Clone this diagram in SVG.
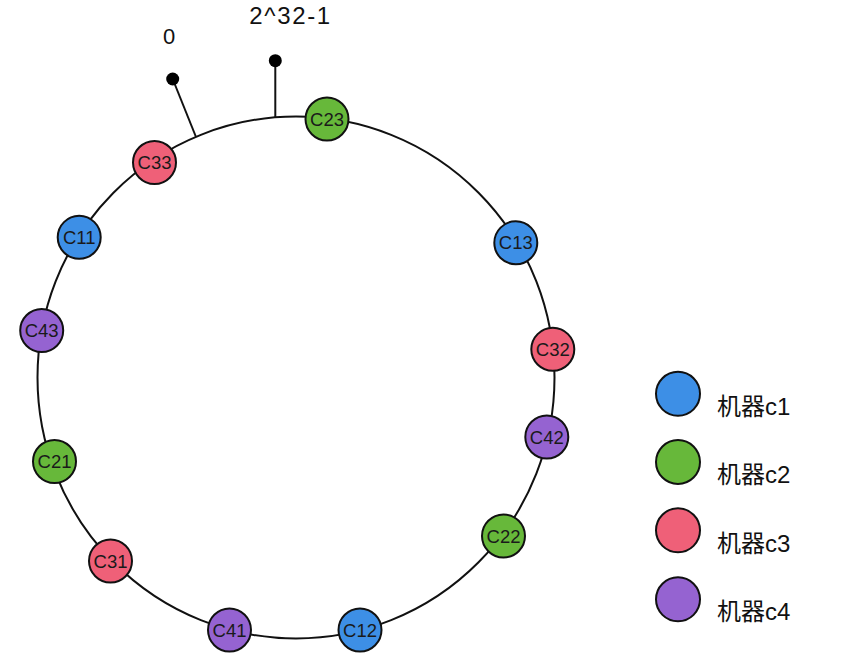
<svg xmlns="http://www.w3.org/2000/svg" width="858" height="666" viewBox="0 0 858 666">
<style>
.n{stroke:#111;stroke-width:2}
.c1{fill:#3d8fe6}
.c2{fill:#67b83a}
.c3{fill:#ef6078}
.c4{fill:#9563d1}
.t{font-family:"Liberation Sans",Arial,sans-serif;font-size:18.5px;fill:#1a1a1a;text-anchor:middle}
.lg{font-family:"Liberation Sans","Noto Sans CJK SC",sans-serif;font-size:24px;fill:#111}
.lbl{font-family:"Liberation Sans",Arial,sans-serif;fill:#111;text-anchor:middle}
</style>
<rect width="858" height="666" fill="#fff"/>
<g id="connectors" fill="none" stroke="#111" stroke-width="2">
<ellipse cx="296" cy="377.5" rx="258.5" ry="261"/>
<line x1="172.7" y1="79" x2="196" y2="137"/>
<line x1="275.3" y1="60.7" x2="275.3" y2="118"/>
</g>
<g id="pins" fill="#000">
<circle cx="172.7" cy="79" r="6.5"/>
<circle cx="275.3" cy="60.7" r="6.5"/>
</g>
<g id="labels">
<text class="lbl" x="169.2" y="44" style="font-size:22px">0</text>
<text class="lbl" x="289.7" y="23.5" style="font-size:24px" textLength="81" lengthAdjust="spacing">2^32-1</text>
</g>
<g id="C23"><circle class="n c2" cx="327" cy="119" r="21.5"/><text class="t" x="327" y="125.5">C23</text></g>
<g id="C33"><circle class="n c3" cx="154.5" cy="162.5" r="21.5"/><text class="t" x="154.5" y="169">C33</text></g>
<g id="C11"><circle class="n c1" cx="79.2" cy="237.3" r="21.5"/><text class="t" x="79.2" y="243.8">C11</text></g>
<g id="C43"><circle class="n c4" cx="41.7" cy="330.5" r="21.5"/><text class="t" x="41.7" y="337">C43</text></g>
<g id="C21"><circle class="n c2" cx="54.5" cy="461.5" r="21.5"/><text class="t" x="54.5" y="468">C21</text></g>
<g id="C31"><circle class="n c3" cx="110.5" cy="561" r="21.5"/><text class="t" x="110.5" y="567.5">C31</text></g>
<g id="C41"><circle class="n c4" cx="229.5" cy="630" r="21.5"/><text class="t" x="229.5" y="636.5">C41</text></g>
<g id="C12"><circle class="n c1" cx="360" cy="630" r="21.5"/><text class="t" x="360" y="636.5">C12</text></g>
<g id="C22"><circle class="n c2" cx="503.5" cy="536" r="21.5"/><text class="t" x="503.5" y="542.5">C22</text></g>
<g id="C42"><circle class="n c4" cx="546.8" cy="437" r="21.5"/><text class="t" x="546.8" y="443.5">C42</text></g>
<g id="C32"><circle class="n c3" cx="552.8" cy="349.3" r="21.5"/><text class="t" x="552.8" y="355.8">C32</text></g>
<g id="C13"><circle class="n c1" cx="515.8" cy="242.8" r="21.5"/><text class="t" x="515.8" y="249.3">C13</text></g>
<g id="legend">
<g id="legend-c1"><circle class="n c1" cx="678" cy="393.8" r="22"/><text class="lg" x="717" y="415">机器c1</text></g>
<g id="legend-c2"><circle class="n c2" cx="678" cy="462" r="22"/><text class="lg" x="717" y="483">机器c2</text></g>
<g id="legend-c3"><circle class="n c3" cx="678" cy="530.3" r="22"/><text class="lg" x="717" y="552">机器c3</text></g>
<g id="legend-c4"><circle class="n c4" cx="678" cy="599.3" r="22"/><text class="lg" x="717" y="620">机器c4</text></g>
</g>
</svg>
